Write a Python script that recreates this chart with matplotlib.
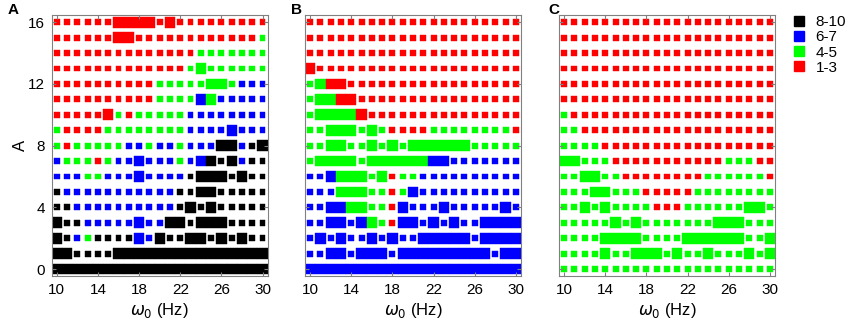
import matplotlib.pyplot as plt
from matplotlib.lines import Line2D
from matplotlib.patches import Rectangle

plt.rcParams["font.family"] = ["Liberation Sans", "DejaVu Sans"]

# ------------------------------------------------------------------ data

omega = list(range(10, 31))            # w0 (Hz), one column per value
amp_levels = list(range(16, -1, -1))   # A, rows of the strings below (top -> bottom)

categories = ["8-10", "6-7", "4-5", "1-3"]
codes = ["k", "b", "g", "r"]
colors = ["#000000", "#0000ff", "#00ff00", "#ff0000"]

# one char per w0: k/b/g/r = category, uppercase = large (filled) cell
panel_a = [
    "rrrrrrRRRRrRrrrrrrrrr",
    "rrrrrrRRrrrrrrrrrrrrg",
    "rrrrrrrrrrrrrrggggggg",
    "rrrrrrrrrrrrrgGgggggg",
    "rrrrrrrrrrgggggGGgbbb",
    "rrrrrrrrrrggggBGbbbbb",
    "rrrrrRgrgggggbbbbbbbb",
    "grrrrggggggggbbbbBbbb",
    "grgggggbbgbbgbbbKKbkK",
    "bgggrgbbBbbbgbBKkKbkk",
    "bbbggbbbBbbbbkKKKkKkk",
    "kbbbbbbbbbbbkkKKkkkkk",
    "kkbbbbbbbbbbkKkKkkkkk",
    "KkkbbbbbBbbKKkKKKkkkk",
    "KkbgkkkkBbKkkKKkKkKkk",
    "KKkkkkKKKKKKKKKKKKKKK",
    "KKKKKKKKKKKKKKKKKKKKK",
]

panel_b = [
    "rrrrrrrrrrrrrrrrrrrrr",
    "rrrrrrrrrrrrrrrrrrrrr",
    "rrrrrrrrrrrrrrrrrrrrr",
    "Rrrrrrrrrrrrrrrrrrrrr",
    "gGRRrrrrrrrrrrrrrrrrr",
    "gGGRRrrrrrrrrrrrrrrrr",
    "gGGGGRrrrrrrrrrrrrrrr",
    "ggGGGgGgrrrrggggggggr",
    "ggGGggGgGgGGGGGGggggg",
    "gGGGGgGGGGGGBBbbbbbbb",
    "bbBGGGgGrggbbbbbbbbbb",
    "bbbGGGggrgBbbbbbbbbbb",
    "bbBBGGggrBbbbBbbbbbBb",
    "bbBBbBGgrBBbBbBbbBBBB",
    "bBbBbbBbBbbBBBBBbBBBB",
    "bbBBbBBBbBBBBBBBBBbBB",
    "BBBBBBBBBBBBBBBBBBBBB",
]

panel_c = [
    "rrrrrrrrrrrrrrrrrrrrr",
    "rrrrrrrrrrrrrrrrrrrrr",
    "rrrrrrrrrrrrrrrrrrrrr",
    "rrrrrrrrrrrrrrrrrrrrr",
    "rrrrrrrrrrrrrrrrrrrrr",
    "rrrrrrrrrrrrrrrrrrrrr",
    "grrrrrrrrrrrrrrrrrrrr",
    "ggrrrrrrrrrrrrrrrrrrr",
    "ggggrrrrrrrrrrrrrrrrr",
    "GGgggrrrrrrrrrrrgggrr",
    "ggGGggrrrrrrrrggggggr",
    "gggGGgggrrrrrgggggggg",
    "ggGgGggggrrrggggggGGg",
    "gggggGgGgggggggGGGggg",
    "ggggGGGGggggGGGGGGggG",
    "ggggGggGGGgGggGgggGgG",
    "ggggggggggggggggggggg",
]

x_ticks = [10, 14, 18, 22, 26, 30]
y_ticks = [0, 4, 8, 12, 16]


# ------------------------------------------------------------------ drawing

def draw_panel(ax, rows):
    for a, row in zip(amp_levels, rows):
        for w, c in zip(omega, row):
            col = colors[codes.index(c.lower())]
            if c.isupper():
                ww, hh = 1.0, 0.70
            else:
                ww, hh = 0.57, 0.38
            ax.add_patch(Rectangle((w - ww / 2, a - hh / 2), ww, hh,
                                   facecolor=col, edgecolor=col, lw=0.3))
    ax.set_xlim(9.5, 30.5)
    ax.set_ylim(-0.45, 16.5)
    ax.set_xticks(x_ticks)
    ax.set_yticks(y_ticks)
    ax.tick_params(direction="in", top=True, right=True, length=3,
                   color="#808080", labelsize=11, pad=5)
    for s in ax.spines.values():
        s.set_edgecolor("#808080"), s.set_linewidth(0.8)
    ax.set_xlabel(r"$\omega_0$ (Hz)", fontsize=12, labelpad=3)


fig = plt.figure(figsize=(8.51, 3.31), dpi=100)
lefts = [51.7, 305, 559]
axes = []
for left, rows in zip(lefts, [panel_a, panel_b, panel_c]):
    ax = fig.add_axes([left / 851, 1 - 276 / 331, 216 / 851, 261.5 / 331])
    draw_panel(ax, rows)
    axes.append(ax)

axes[0].set_ylabel("A", fontsize=12, labelpad=0)
for ax in axes[1:]:
    ax.set_yticklabels([])

for x, lab in zip([8, 291, 548], ["A", "B", "C"]):
    fig.text(x / 851, 1 - 3 / 331, lab, fontsize=11, weight="bold",
             ha="left", va="top")

handles = [Line2D([], [], marker="s", ls="", color=c, markersize=7)
           for c in colors]
fig.legend(handles, categories, loc="upper left",
           bbox_to_anchor=(785 / 851, 1 - 9 / 331), frameon=False,
           handlelength=1.0, handletextpad=0.6, labelspacing=0.08,
           fontsize=11, borderaxespad=0)

fig.savefig("out.png", dpi=100)
